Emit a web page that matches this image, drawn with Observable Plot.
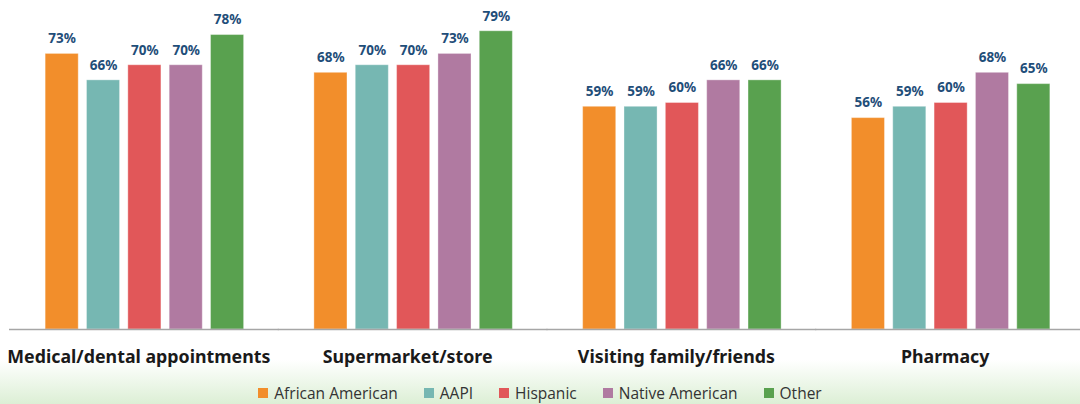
<!DOCTYPE html>
<html>
<head>
<meta charset="utf-8">
<script src="https://cdn.jsdelivr.net/npm/d3@7"></script>
<script src="https://cdn.jsdelivr.net/npm/@observablehq/plot@0.6"></script>
<style>
  html, body { margin: 0; padding: 0; }
  body {
    width: 1080px; height: 404px; overflow: hidden; position: relative;
    background: linear-gradient(to bottom, #ffffff 0px, #ffffff 360px, #dcefd5 404px);
    font-family: "Open Sans", sans-serif;
  }
  #chart svg { display: block; background: transparent; max-width: none !important; }
  #legend { position: absolute; left: 0; top: 382px; width: 1080px; display: flex; justify-content: center; }
  #legend > div { margin: 0 !important; min-height: 0 !important; }
  #legend > div > span { margin-right: 26px !important; }
  #legend > div > span:last-child { margin-right: 0 !important; }
  #legend > div > span > svg { margin-right: 6px !important; }
</style>
</head>
<body>
<div id="chart"></div>
<div id="legend"></div>
<script>
const categories = ["Medical/dental appointments", "Supermarket/store", "Visiting family/friends", "Pharmacy"];
const series = ["African American", "AAPI", "Hispanic", "Native American", "Other"];
const colors = ["#F28E2B", "#76B7B2", "#E15759", "#B07AA1", "#59A14F"];
const africanAmerican = [73, 68, 59, 56];
const aapi = [66, 70, 59, 59];
const hispanic = [70, 70, 60, 60];
const nativeAmerican = [70, 73, 66, 68];
const other = [78, 79, 66, 65];

const seriesValues = [africanAmerican, aapi, hispanic, nativeAmerican, other];
const data = [];
categories.forEach((c, i) => {
  series.forEach((s, j) => {
    data.push({category: c, group: s, value: seriesValues[j][i]});
  });
});

const chart = Plot.plot({
  width: 1085,
  height: 372,
  marginTop: 27,
  marginBottom: 43,
  marginLeft: 10,
  marginRight: 0,
  style: {background: "transparent", overflow: "visible", maxWidth: "none"},
  fx: {domain: categories, padding: 0, round: false, label: null},
  x: {domain: series, paddingInner: 0.2, paddingOuter: 0.85, round: false, axis: null},
  y: {domain: [0, 80], axis: null},
  color: {domain: series, range: colors},
  marks: [
    Plot.barY(data, {fx: "category", x: "group", y: "value", fill: "group", stroke: "white", strokeOpacity: 0.35, strokeWidth: 1}),
    Plot.text(data, {fx: "category", x: "group", y: "value", text: d => d.value + "%", dy: -15, fill: "#1F4E79", fontSize: 13.5, fontWeight: "bold"}),
    Plot.axisFx({anchor: "bottom", tickSize: 0, tickPadding: 21, dx: -6, fontSize: 17.8, fontWeight: "bold", fill: "#1a1a1a", label: null}),
    Plot.ruleY([0], {stroke: "#a6a6a6", strokeWidth: 1.5, insetLeft: -1})
  ]
});
document.getElementById("chart").appendChild(chart);

const legend = Plot.legend({
  color: {domain: series, range: colors},
  legend: "swatches",
  swatchSize: 10,
  swatchWidth: 10,
  swatchHeight: 10,
  style: {fontSize: "15.5px", color: "#333", fontFamily: "Open Sans, sans-serif"}
});
document.getElementById("legend").appendChild(legend);
</script>
</body>
</html>
